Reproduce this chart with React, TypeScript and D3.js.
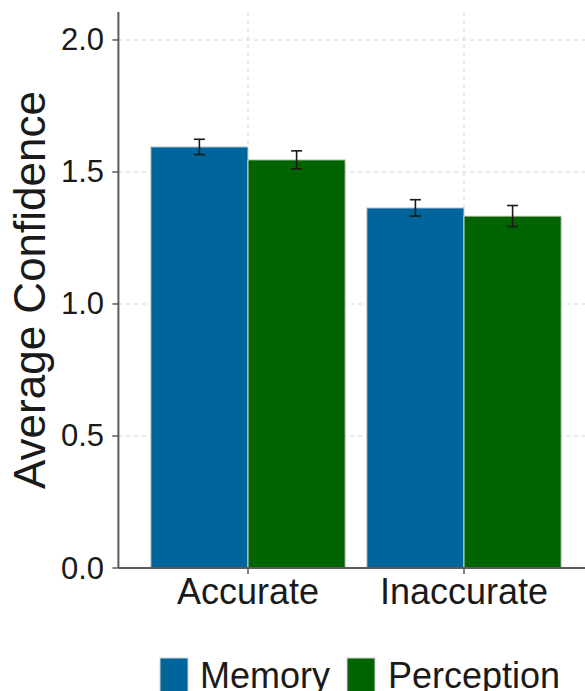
import * as d3 from 'd3'

const categories = ['Accurate', 'Inaccurate']
const series = ['Memory', 'Perception']
const seriesColors = ['#00659a', '#006400']
// mean confidence per category, one array per series
const memoryValues = [1.595, 1.364]
const perceptionValues = [1.546, 1.333]
// standard error per category
const memoryErrors = [0.029, 0.031]
const perceptionErrors = [0.034, 0.04]
const yTicks = [0, 0.5, 1, 1.5, 2]

const values = [memoryValues, perceptionValues]
const errors = [memoryErrors, perceptionErrors]

export default function App() {
  const width = 585,
    height = 691,
    left = 118.4,
    right = 593.6,
    top = 12,
    bottom = 568

  const x = d3
    .scaleBand()
    .domain(categories)
    .range([left, right])
    .paddingInner(0.1)
    .paddingOuter(0.15)
  const xSeries = d3.scaleBand().domain(series).range([0, x.bandwidth()])
  const y = d3.scaleLinear().domain([0, 2.106]).range([bottom, top])

  const fmt = d3.format('.1f')
  const font = '"Liberation Sans", Arial, sans-serif'
  const axisColor = '#5a5a5a'
  const capHalf = 5.5

  const legendPos = [
    { key: 160, text: 200 },
    { key: 347, text: 388 },
  ]

  return (
    <svg
      width={width}
      height={height}
      style={{ position: 'absolute', left: 0, top: 0 }}
      fontFamily={font}
    >
      <rect width={width} height={height} fill="#fff" />

      {/* grid */}
      {yTicks.slice(1).map((t) => (
        <line
          key={'gy' + t}
          x1={left}
          x2={width}
          y1={y(t)}
          y2={y(t)}
          stroke="#d6d6d6"
          strokeDasharray="4,4"
        />
      ))}
      {categories.map((c) => (
        <line
          key={'gx' + c}
          x1={x(c)! + x.bandwidth() / 2}
          x2={x(c)! + x.bandwidth() / 2}
          y1={top}
          y2={bottom}
          stroke="#d6d6d6"
          strokeDasharray="4,4"
        />
      ))}

      {/* bars */}
      {categories.map((c, i) =>
        series.map((s, j) => (
          <rect
            key={c + s}
            x={x(c)! + xSeries(s)!}
            y={y(values[j][i])}
            width={xSeries.bandwidth()}
            height={y(0) - y(values[j][i])}
            fill={seriesColors[j]}
            stroke="#d4d4d4"
            strokeWidth={1}
          />
        ))
      )}

      {/* error bars */}
      {categories.map((c, i) =>
        series.map((s, j) => {
          const cx = x(c)! + xSeries(s)! + xSeries.bandwidth() / 2
          const lo = y(values[j][i] - errors[j][i])
          const hi = y(values[j][i] + errors[j][i])
          return (
            <g key={'e' + c + s} stroke="#1a1a1a" strokeWidth={1.6}>
              <line x1={cx} x2={cx} y1={lo} y2={hi} />
              <line x1={cx - capHalf} x2={cx + capHalf} y1={lo} y2={lo} />
              <line x1={cx - capHalf} x2={cx + capHalf} y1={hi} y2={hi} />
            </g>
          )
        })
      )}

      {/* axes */}
      <line x1={left} x2={left} y1={top} y2={bottom} stroke={axisColor} strokeWidth={2} />
      <line x1={left} x2={width} y1={bottom} y2={bottom} stroke={axisColor} strokeWidth={2} />
      {yTicks.map((t) => (
        <g key={'yt' + t}>
          <line x1={left - 6} x2={left} y1={y(t)} y2={y(t)} stroke={axisColor} strokeWidth={1.5} />
          <text
            x={104}
            y={y(t)}
            textAnchor="end"
            dominantBaseline="central"
            fontSize={31}
            fill="#1a1a1a"
          >
            {fmt(t)}
          </text>
        </g>
      ))}
      {categories.map((c) => {
        const cx = x(c)! + x.bandwidth() / 2
        return (
          <g key={'xt' + c}>
            <line x1={cx} x2={cx} y1={bottom} y2={bottom + 6} stroke={axisColor} strokeWidth={1.5} />
            <text x={cx} y={604} textAnchor="middle" fontSize={36} fill="#1a1a1a">
              {c}
            </text>
          </g>
        )
      })}

      <text
        transform={`translate(45,${(top + bottom) / 2}) rotate(-90)`}
        textAnchor="middle"
        fontSize={44}
        fill="#1a1a1a"
      >
        Average Confidence
      </text>

      {/* legend */}
      {series.map((s, j) => (
        <g key={'lg' + s}>
          <rect
            x={legendPos[j].key}
            y={658}
            width={28}
            height={34}
            fill={seriesColors[j]}
            stroke="#d4d4d4"
          />
          <text x={legendPos[j].text} y={688} fontSize={36} fill="#1a1a1a">
            {s}
          </text>
        </g>
      ))}
    </svg>
  )
}
